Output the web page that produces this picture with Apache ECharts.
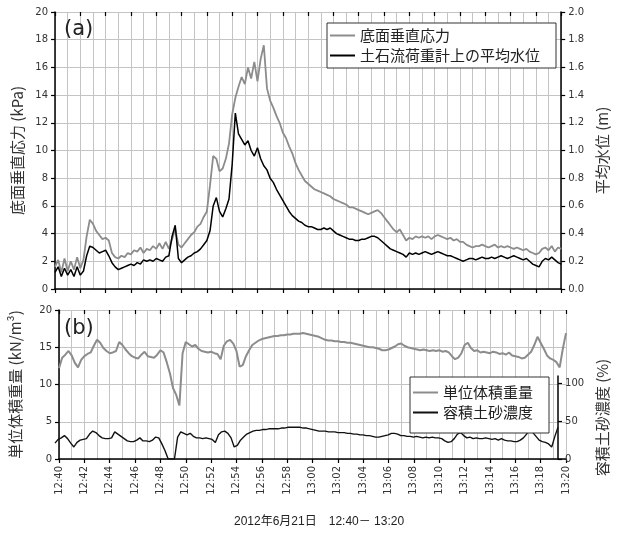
<!DOCTYPE html>
<html>
<head>
<meta charset="utf-8">
<script src="https://cdn.jsdelivr.net/npm/echarts@6/dist/echarts.min.js"></script>
<style>
  html, body { margin: 0; padding: 0; background: #fff; }
  #chart { width: 618px; height: 533px; }
</style>
</head>
<body>
<div id="chart"></div>
<script>
// Time axis: minutes after 12:40, labelled every two minutes
const tickLabels = ['12:40','12:42','12:44','12:46','12:48','12:50','12:52','12:54','12:56','12:58',
  '13:00','13:02','13:04','13:06','13:08','13:10','13:12','13:14','13:16','13:18','13:20'];
const SAMPLE_MIN = 0.25; // one sample every 15 s

// (a) basal normal stress, kPa
const stressKPa = [
  1.6,2.1,1.2,2.2,1.3,2.0,1.4,2.3,1.5,2.1,
  3.8,5.0,4.7,4.2,3.9,3.6,3.7,3.5,2.6,2.3,
  2.2,2.4,2.3,2.6,2.5,2.8,2.7,3.0,2.6,2.9,
  2.8,3.1,2.9,3.3,2.9,3.4,2.9,3.6,4.3,3.2,
  3.0,3.3,3.6,3.9,4.1,4.5,4.7,5.2,5.6,7.5,
  9.6,9.4,8.5,8.7,9.4,10.5,12.6,13.8,14.6,15.3,
  14.8,16.0,15.2,16.4,15.0,16.6,17.6,14.5,13.6,13.1,
  12.5,12.0,11.3,10.9,10.3,9.8,9.1,8.6,8.2,7.8,
  7.6,7.4,7.2,7.1,7.0,6.9,6.8,6.7,6.5,6.4,
  6.3,6.2,6.1,5.9,5.9,5.8,5.7,5.6,5.5,5.4,
  5.5,5.6,5.7,5.5,5.2,4.9,4.6,4.3,4.1,4.3,
  3.9,3.5,3.7,3.6,3.8,3.7,3.8,3.7,3.8,3.6,
  3.8,3.9,3.8,3.7,3.6,3.7,3.5,3.6,3.4,3.4,
  3.2,3.1,3.0,3.1,3.1,3.2,3.1,3.0,3.1,3.2,
  3.0,3.1,3.0,3.1,3.0,2.9,3.0,2.9,2.8,2.9,
  2.7,2.6,2.5,2.6,2.9,3.0,2.8,3.1,2.7,3.0,
  2.9
];

// (a) mean flow depth over the load cell, m
const waterLevelM = [
  0.12,0.16,0.09,0.15,0.10,0.14,0.09,0.16,0.10,0.13,
  0.24,0.31,0.30,0.28,0.26,0.27,0.28,0.24,0.19,0.16,
  0.14,0.15,0.16,0.17,0.18,0.17,0.19,0.18,0.21,0.20,
  0.21,0.20,0.22,0.21,0.20,0.23,0.24,0.38,0.46,0.22,
  0.19,0.21,0.23,0.24,0.26,0.27,0.29,0.32,0.35,0.42,
  0.60,0.66,0.56,0.52,0.58,0.65,0.90,1.27,1.12,1.08,
  1.04,1.07,1.00,0.96,1.02,0.94,0.89,0.86,0.80,0.77,
  0.72,0.68,0.64,0.60,0.56,0.53,0.51,0.49,0.48,0.46,
  0.45,0.45,0.44,0.43,0.43,0.44,0.43,0.44,0.42,0.40,
  0.39,0.38,0.37,0.36,0.36,0.35,0.35,0.36,0.36,0.37,
  0.38,0.38,0.37,0.35,0.33,0.31,0.29,0.28,0.27,0.26,
  0.25,0.23,0.26,0.25,0.26,0.25,0.26,0.27,0.26,0.25,
  0.26,0.27,0.26,0.25,0.24,0.24,0.23,0.22,0.21,0.20,
  0.21,0.22,0.22,0.21,0.22,0.23,0.22,0.22,0.23,0.22,
  0.23,0.24,0.23,0.22,0.23,0.24,0.23,0.22,0.21,0.22,
  0.20,0.18,0.17,0.16,0.20,0.22,0.21,0.23,0.21,0.19,
  0.18
];

// (b) unit weight of the flow, kN/m3
const unitWeight = [
  12.2,13.6,14.0,14.5,13.9,12.9,12.3,13.3,13.8,14.1,
  14.3,15.2,16.0,15.6,14.9,14.5,14.2,14.3,14.5,15.7,
  15.3,14.7,14.2,13.8,13.6,13.5,14.0,14.4,13.8,13.7,
  13.6,14.0,14.6,14.3,13.0,11.5,9.5,8.6,7.2,14.2,
  15.7,15.4,15.1,15.3,14.8,14.5,14.4,14.3,14.4,14.2,
  14.1,13.4,15.2,15.8,16.0,15.5,14.5,12.4,12.6,13.8,
  14.6,15.3,15.6,15.9,16.1,16.2,16.3,16.4,16.5,16.5,
  16.6,16.6,16.7,16.7,16.8,16.8,16.8,16.9,16.8,16.7,
  16.6,16.5,16.4,16.2,16.0,15.9,15.9,15.8,15.8,15.7,
  15.7,15.6,15.6,15.5,15.4,15.3,15.2,15.1,15.0,15.0,
  14.9,14.8,14.6,14.6,14.7,14.9,15.1,15.4,15.5,15.2,
  15.0,14.9,14.8,14.7,14.6,14.7,14.6,14.5,14.6,14.5,
  14.6,14.4,14.5,14.3,13.8,13.4,13.6,14.2,15.3,15.6,
  14.9,14.5,14.6,14.3,14.4,14.3,14.2,14.4,14.3,14.1,
  14.2,14.0,14.3,13.9,13.8,13.7,13.5,13.6,14.0,14.4,
  15.3,16.4,15.6,14.8,13.9,13.5,13.3,13.0,12.3,14.8,
  16.9
];

// (b) volumetric sediment concentration, %
const sedimentConc = [
  21,26,28,31,27,21,16,22,25,26,
  27,33,37,35,31,28,27,27,28,36,
  33,30,27,24,23,23,25,28,24,24,
  23,25,29,28,20,11,0,0,0,29,
  36,34,32,34,30,28,28,27,28,27,
  26,22,32,36,37,34,28,16,18,25,
  29,33,35,37,38,38,39,39,40,40,
  40,40,41,41,42,42,42,42,42,41,
  41,40,39,38,37,37,37,36,36,36,
  35,35,35,34,34,33,33,32,32,31,
  31,30,29,29,30,31,32,34,34,33,
  31,31,30,30,29,30,29,28,29,28,
  29,28,28,27,24,22,23,27,33,35,
  31,28,29,27,28,27,27,28,27,26,
  27,25,27,25,24,24,23,23,25,28,
  33,40,35,30,25,23,22,20,16,30,
  42
];

const toPairs = vals => vals.map((v, i) => [i * SAMPLE_MIN, v]);

const GRID_COLOR = '#c4c4c4';
const LABEL_FONT = "'DejaVu Sans', 'Noto Sans CJK JP', sans-serif";
const CJK_FONT = "'Noto Sans CJK JP', 'DejaVu Sans', sans-serif";

function timeAxis(gridIndex, withLabels) {
  return {
    type: 'value', gridIndex, min: 0, max: 40, interval: 2,
    axisLine: { show: true, onZero: false, lineStyle: { color: '#000', width: 1.5 } },
    axisTick: { show: true, inside: false, length: 4, lineStyle: { color: '#000', width: 1.2 } },
    axisLabel: {
      show: withLabels, rotate: 90, margin: 7, fontSize: 10, color: '#333', fontFamily: LABEL_FONT,
      formatter: v => tickLabels[Math.round(v / 2)]
    },
    splitLine: { show: true, lineStyle: { color: GRID_COLOR, width: 1 } },
    minorTick: { show: false, splitNumber: 2 },
    minorSplitLine: { show: true, lineStyle: { color: GRID_COLOR, width: 1 } }
  };
}
// second copy of the time axis carrying the inward half of the cross ticks
function innerTicks(gridIndex) {
  return {
    type: 'value', gridIndex, min: 0, max: 40, interval: 2,
    axisLine: { show: false, onZero: false },
    axisTick: { show: true, inside: true, length: 4, lineStyle: { color: '#000', width: 1.2 } },
    axisLabel: { show: false }, splitLine: { show: false }
  };
}

function valueAxis(opts) {
  return Object.assign({
    type: 'value',
    axisLine: { show: true, onZero: false, lineStyle: { color: '#000', width: 1.5 } },
    axisTick: { show: true, length: 4, lineStyle: { color: '#000', width: 1.2 } },
    axisLabel: { fontSize: 10, color: '#333', margin: 7, fontFamily: LABEL_FONT },
    splitLine: { show: false },
    nameLocation: 'middle', nameRotate: 90,
    nameTextStyle: { fontSize: 15, color: '#333', fontFamily: CJK_FONT }
  }, opts);
}

const chart = echarts.init(document.getElementById('chart'), null, { renderer: 'canvas' });

chart.setOption({
  animation: false,
  backgroundColor: '#fff',
  grid: [
    { left: 55, top: 12, width: 511, height: 277 },
    { left: 55, top: 310, width: 511, height: 149 },
    { left: 55, top: 376, width: 511, height: 83 }
  ],
  title: [
    { text: '(a)', left: 59, top: 14, textStyle: { fontSize: 21, fontWeight: 'normal', color: '#222', fontFamily: LABEL_FONT } },
    { text: '(b)', left: 59, top: 313, textStyle: { fontSize: 21, fontWeight: 'normal', color: '#222', fontFamily: LABEL_FONT } },
    { text: '2012年6月21日　12:40－ 13:20', left: 229, top: 511,
      textStyle: { fontSize: 12, fontWeight: 'normal', color: '#222', fontFamily: "'Liberation Sans', 'Noto Sans CJK JP', sans-serif" } }
  ],
  legend: [
    {
      data: ['底面垂直応力', '土石流荷重計上の平均水位'],
      orient: 'vertical', left: 327, top: 23, itemGap: 5,
      padding: [5, 16, 5, 3],
      icon: 'rect', itemWidth: 25, itemHeight: 2,
      backgroundColor: '#fff', borderColor: '#333', borderWidth: 1,
      textStyle: { fontSize: 15, color: '#222', fontFamily: CJK_FONT }
    },
    {
      data: ['単位体積重量', '容積土砂濃度'],
      orient: 'vertical', left: 410, top: 377, itemGap: 5,
      padding: [8, 16, 13, 3],
      icon: 'rect', itemWidth: 25, itemHeight: 2,
      backgroundColor: '#fff', borderColor: '#333', borderWidth: 1,
      textStyle: { fontSize: 15, color: '#222', fontFamily: CJK_FONT }
    }
  ],
  xAxis: [
    timeAxis(0, false),
    innerTicks(0),
    timeAxis(1, true),
    innerTicks(1),
    { type: 'value', gridIndex: 2, min: 0, max: 40, show: false }
  ],
  yAxis: [
    valueAxis({ gridIndex: 0, position: 'left', min: 0, max: 20, interval: 2,
      name: '底面垂直応力 (kPa)', nameGap: 28,
      splitLine: { show: true, lineStyle: { color: GRID_COLOR, width: 1 } } }),
    valueAxis({ gridIndex: 0, position: 'right', min: 0, max: 2, interval: 0.2,
      name: '平均水位 (m)', nameGap: 32,
      axisLabel: { fontSize: 10, color: '#333', margin: 7, fontFamily: LABEL_FONT, formatter: v => v.toFixed(1) } }),
    valueAxis({ gridIndex: 1, position: 'left', min: 0, max: 20, interval: 5,
      name: '単位体積重量 (kN/m³)', nameGap: 36,
      splitLine: { show: true, lineStyle: { color: GRID_COLOR, width: 1 } } }),
    valueAxis({ gridIndex: 2, position: 'right', min: 0, max: 110, interval: 50,
      name: '容積土砂濃度 (%)', nameGap: 32 })
  ],
  series: [
    { name: '底面垂直応力', type: 'line', xAxisIndex: 0, yAxisIndex: 0, data: toPairs(stressKPa),
      symbol: 'none', color: '#8c8c8c', lineStyle: { color: '#8c8c8c', width: 1.8 } },
    { name: '土石流荷重計上の平均水位', type: 'line', xAxisIndex: 0, yAxisIndex: 1, data: toPairs(waterLevelM),
      symbol: 'none', color: '#000', lineStyle: { color: '#000', width: 1.5 } },
    { name: '単位体積重量', type: 'line', xAxisIndex: 2, yAxisIndex: 2, data: toPairs(unitWeight),
      symbol: 'none', color: '#8c8c8c', lineStyle: { color: '#8c8c8c', width: 2 } },
    { name: '容積土砂濃度', type: 'line', xAxisIndex: 4, yAxisIndex: 3, data: toPairs(sedimentConc),
      symbol: 'none', color: '#111', lineStyle: { color: '#111', width: 1.4 } }
  ]
});
</script>
</body>
</html>
